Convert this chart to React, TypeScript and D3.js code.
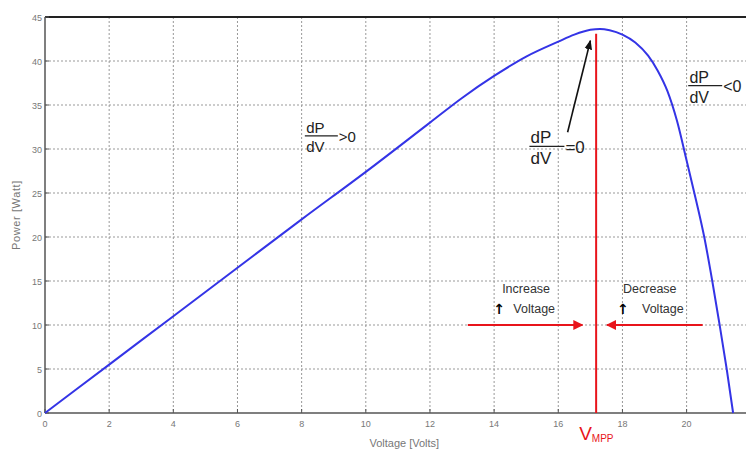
import React from "react";
import * as d3 from "d3";

// P-V curve of the PV module
const voltage = [0, 2, 4, 6, 8, 10, 12, 13, 14, 15, 16, 16.5, 17, 17.3, 17.6, 18, 18.4, 18.8, 19.1, 19.4, 19.7, 20, 20.3, 20.55, 20.8, 21.03, 21.25, 21.45];
const power = [0, 5.5, 11, 16.5, 22, 27.4, 33, 35.8, 38.3, 40.5, 42.2, 43.0, 43.55, 43.65, 43.5, 43.0, 42.1, 40.6, 38.9, 36.6, 33.2, 28.7, 24.1, 20, 15, 10, 5, 0];

const xTicks = [0, 2, 4, 6, 8, 10, 12, 14, 16, 18, 20];
const yTicks = [0, 5, 10, 15, 20, 25, 30, 35, 40, 45];

const vMpp = 17.18;
const pMpp = 43.1;
const arrowLevel = 10; // W, where the red arrows sit
const increaseFrom = 13.18;
const increaseTo = 16.75;
const decreaseFrom = 20.5;
const decreaseTo = 17.52;

const width = 746;
const height = 455;
const margin = { top: 17, left: 45, bottom: 42 };

export default function App() {
  const x = d3.scaleLinear().domain([0, 22]).range([margin.left, margin.left + 22 * 32.08]);
  const y = d3.scaleLinear().domain([0, 45]).range([height - margin.bottom, margin.top]);

  const pts = voltage.map((v, i) => [v, power[i]] as [number, number]);
  const line = d3
    .line<[number, number]>()
    .x((d) => x(d[0]))
    .y((d) => y(d[1]))
    .curve(d3.curveMonotoneX);

  const grey = "#777";
  const font = "'Liberation Sans', Arial, sans-serif";
  const red = "#e8141b";

  // fraction "dP/dV" annotation
  const frac = (cx: number, cy: number, w: number, fs: number, tail: string, key: string) => (
    <g key={key} fontFamily={font} fill="#222" fontSize={fs}>
      <text x={cx + w / 2 - 6} y={cy - 3} textAnchor="middle">dP</text>
      <line x1={cx} x2={cx + w} y1={cy} y2={cy} stroke="#222" strokeWidth={1.2} />
      <text x={cx + w / 2 - 6} y={cy + fs + 1} textAnchor="middle">dV</text>
      <text x={cx + w + 1} y={cy + fs * 0.4}>{tail}</text>
    </g>
  );

  return (
    <svg width={width} height={height} style={{ position: "absolute", left: 0, top: 0, background: "#fff" }}>
      <defs>
        <marker id="redHead" viewBox="0 0 10 10" refX="9" refY="5" markerWidth="5" markerHeight="5" orient="auto">
          <path d="M0,0 L10,5 L0,10 z" fill={red} />
        </marker>
        <marker id="blackHead" viewBox="0 0 10 10" refX="9" refY="5" markerWidth="6" markerHeight="6" orient="auto">
          <path d="M0,1 L10,5 L0,9 z" fill="#111" />
        </marker>
      </defs>

      {/* grid */}
      {xTicks.filter((t) => t > 0).map((t) => (
        <line key={"gx" + t} x1={x(t)} x2={x(t)} y1={y(45)} y2={y(0)} stroke="#999" strokeDasharray="2,2" />
      ))}
      {yTicks.filter((t) => t > 0 && t < 45).map((t) => (
        <line key={"gy" + t} x1={x(0)} x2={width} y1={y(t)} y2={y(t)} stroke="#999" strokeDasharray="2,2" />
      ))}

      {/* axes */}
      <line x1={x(0)} x2={width} y1={y(45)} y2={y(45)} stroke="#222" strokeWidth={2} />
      <line x1={x(0)} x2={width} y1={y(0)} y2={y(0)} stroke="#555" strokeWidth={1.5} />
      <line x1={x(0)} x2={x(0)} y1={y(45)} y2={y(0)} stroke="#555" strokeWidth={1.5} />

      {xTicks.map((t) => (
        <g key={"tx" + t}>
          <line x1={x(t)} x2={x(t)} y1={y(0)} y2={y(0) - 4} stroke="#555" />
          <text x={x(t)} y={y(0) + 14} textAnchor="middle" fontSize={9} fill={grey} fontFamily={font}>{t}</text>
        </g>
      ))}
      {yTicks.map((t) => (
        <g key={"ty" + t}>
          <line x1={x(0)} x2={x(0) + 4} y1={y(t)} y2={y(t)} stroke="#555" />
          <text x={x(0) - 3} y={y(t) + 3.5} textAnchor="end" fontSize={9} fill={grey} fontFamily={font}>{t}</text>
        </g>
      ))}

      <text transform={`translate(20,${y(22.5)}) rotate(-90)`} textAnchor="middle" fontSize={11} fill={grey} fontFamily={font} letterSpacing={0.6}>Power [Watt]</text>
      <text x={x(11.2)} y={447} textAnchor="middle" fontSize={11} fill={grey} fontFamily={font}>Voltage [Volts]</text>

      {/* P-V curve */}
      <path d={line(pts) || ""} fill="none" stroke="#3434e6" strokeWidth={2} />

      {/* maximum power point */}
      <line x1={x(vMpp)} x2={x(vMpp)} y1={y(pMpp)} y2={y(0)} stroke={red} strokeWidth={2} />
      <text x={x(vMpp) - 17} y={440} fill={red} fontFamily={font} fontSize={19}>
        V<tspan fontSize={10} dy={2}>MPP</tspan>
      </text>

      {/* red arrows */}
      <line x1={x(increaseFrom)} x2={x(increaseTo)} y1={y(arrowLevel)} y2={y(arrowLevel)} stroke={red} strokeWidth={2} markerEnd="url(#redHead)" />
      <line x1={x(decreaseFrom)} x2={x(decreaseTo)} y1={y(arrowLevel)} y2={y(arrowLevel)} stroke={red} strokeWidth={2} markerEnd="url(#redHead)" />

      <g fontFamily={font} fontSize={12.5} fill="#333">
        <text x={x(14.25)} y={y(13.6)}>Increase</text>
        <text x={x(14.6)} y={y(11.4)}>Voltage</text>
        <text x={x(13.97)} y={y(11.3)} fontSize={14} fill="#000" fontFamily="'DejaVu Sans'" fontWeight="bold">↑</text>
        <text x={x(18.02)} y={y(13.6)}>Decrease</text>
        <text x={x(18.61)} y={y(11.4)}>Voltage</text>
        <text x={x(17.83)} y={y(11.3)} fontSize={14} fill="#000" fontFamily="'DejaVu Sans'" fontWeight="bold">↑</text>
      </g>

      {/* dP/dV annotations */}
      {frac(x(8.1), y(31.5), 33, 15, ">0", "pos")}
      {frac(x(15.1), y(30.3), 35, 17, "=0", "zero")}
      {frac(x(20.05), y(37.2), 34, 16, "<0", "neg")}

      <line x1={x(16.29)} x2={x(17.0)} y1={y(31.9)} y2={y(42.3)} stroke="#111" strokeWidth={1.6} markerEnd="url(#blackHead)" />
    </svg>
  );
}
